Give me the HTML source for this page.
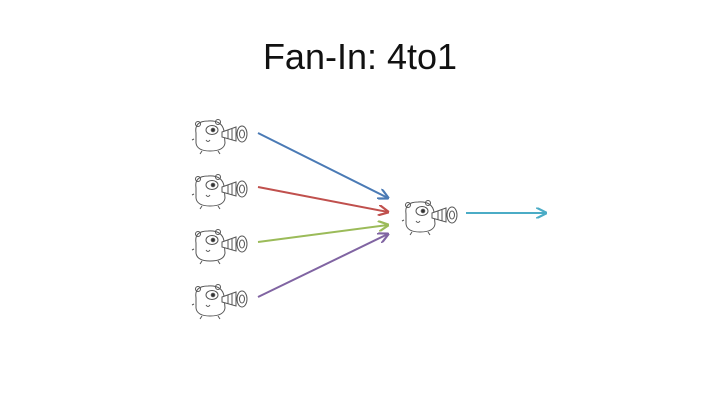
<!DOCTYPE html>
<html><head><style>
body{margin:0;width:720px;height:405px;background:#fff;overflow:hidden}
.t{position:absolute;top:36px;left:0;width:720px;text-align:center;font-family:"Liberation Sans",sans-serif;font-size:36px;color:#111}
</style></head><body>
<div class="t">Fan-In: 4to1</div>
<svg width="720" height="405" style="position:absolute;left:0;top:0">
<defs>
<g id="g" fill="none" stroke="#555" stroke-width="1">
<path d="M4 16 Q2 4 16 4 Q30 3 32 14 L33 26 Q32 34 18 34 Q5 34 4 26 Z" fill="#fff"/>
<circle cx="6" cy="7" r="2.5"/><circle cx="26" cy="5" r="2.5"/>
<ellipse cx="20" cy="13" rx="6" ry="4.5" fill="#fff"/><circle cx="21" cy="13" r="1.8" fill="#333"/>
<path d="M14 23 q2 3 4 0"/>
<path d="M30 15 L44 10 L44 24 L30 20 Z" fill="#fff"/>
<ellipse cx="50" cy="17" rx="5" ry="8" fill="#fff"/><ellipse cx="50" cy="17" rx="2.5" ry="4"/>
<path d="M36 13 v9 M40 12 v11"/>
<path d="M10 34 l-2 3 M26 34 l2 3 M2 22 l-2 1"/>
</g>
<marker id="ab" viewBox="0 0 10 10" refX="9" refY="5" markerWidth="5.5" markerHeight="5.5" orient="auto"><path d="M0 0 L10 5 L0 10" fill="none" stroke="#4a7ab5" stroke-width="2"/></marker>
<marker id="ar" viewBox="0 0 10 10" refX="9" refY="5" markerWidth="5.5" markerHeight="5.5" orient="auto"><path d="M0 0 L10 5 L0 10" fill="none" stroke="#c0504d" stroke-width="2"/></marker>
<marker id="ag" viewBox="0 0 10 10" refX="9" refY="5" markerWidth="5.5" markerHeight="5.5" orient="auto"><path d="M0 0 L10 5 L0 10" fill="none" stroke="#9bbb59" stroke-width="2"/></marker>
<marker id="ap" viewBox="0 0 10 10" refX="9" refY="5" markerWidth="5.5" markerHeight="5.5" orient="auto"><path d="M0 0 L10 5 L0 10" fill="none" stroke="#8064a2" stroke-width="2"/></marker>
<marker id="ac" viewBox="0 0 10 10" refX="9" refY="5" markerWidth="5.5" markerHeight="5.5" orient="auto"><path d="M0 0 L10 5 L0 10" fill="none" stroke="#4bacc6" stroke-width="2"/></marker>
</defs>
<use href="#g" x="192" y="117"/>
<use href="#g" x="192" y="172"/>
<use href="#g" x="192" y="227"/>
<use href="#g" x="192" y="282"/>
<use href="#g" x="402" y="198"/>
<g stroke-width="2" fill="none">
<line x1="258" y1="133" x2="388" y2="198" stroke="#4a7ab5" marker-end="url(#ab)"/>
<line x1="258" y1="187" x2="388" y2="212" stroke="#c0504d" marker-end="url(#ar)"/>
<line x1="258" y1="242" x2="388" y2="225" stroke="#9bbb59" marker-end="url(#ag)"/>
<line x1="258" y1="297" x2="388" y2="234" stroke="#8064a2" marker-end="url(#ap)"/>
<line x1="466" y1="213" x2="546" y2="213" stroke="#4bacc6" marker-end="url(#ac)"/>
</g>
</svg>
</body></html>
